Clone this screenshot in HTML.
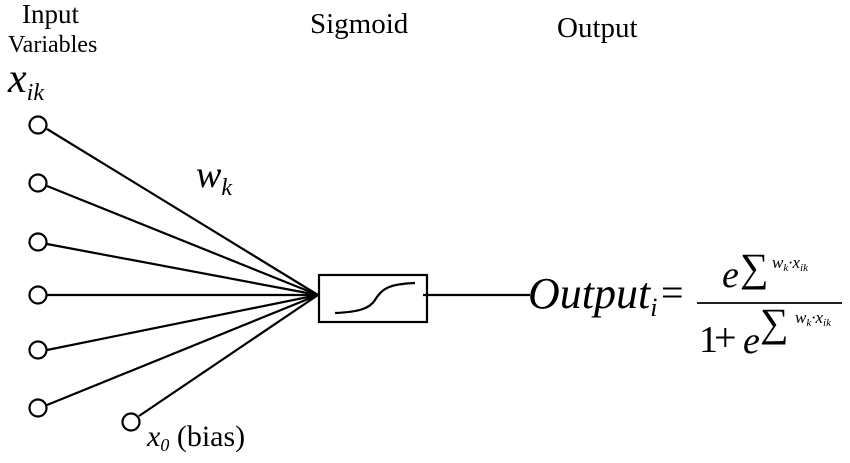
<!DOCTYPE html>
<html><head><style>
html,body{margin:0;padding:0;background:#fff;}
svg{display:block;}
text{font-family:"Liberation Serif",serif;fill:#000;}
</style></head><body>
<svg width="850" height="463" viewBox="0 0 850 463" xmlns="http://www.w3.org/2000/svg">
<text x="22" y="23" font-size="27">Input</text>
<text x="8" y="52" font-size="24">Variables</text>
<text x="310" y="33" font-size="29">Sigmoid</text>
<text x="557" y="37" font-size="29">Output</text>
<text x="8" y="92" font-size="42" font-style="italic">x<tspan font-size="24" dy="8">ik</tspan></text>
<text x="196" y="187" font-size="38" font-style="italic">w<tspan font-size="24" dy="8">k</tspan></text>
<text x="147" y="446" font-size="30"><tspan font-style="italic">x</tspan><tspan font-style="italic" font-size="18" dy="5">0</tspan><tspan dy="-5"> (bias)</tspan></text>
<g stroke="#000" stroke-width="2.2" fill="none">
<circle cx="38" cy="125" r="8.5"/>
<circle cx="38" cy="183" r="8.5"/>
<circle cx="38" cy="242" r="8.5"/>
<circle cx="38" cy="295" r="8.5"/>
<circle cx="38" cy="350" r="8.5"/>
<circle cx="38" cy="408" r="8.5"/>
<circle cx="131" cy="422" r="8.5"/>
<line x1="47" y1="129" x2="318" y2="295"/>
<line x1="47" y1="186" x2="318" y2="295"/>
<line x1="47" y1="244" x2="318" y2="295"/>
<line x1="47" y1="295" x2="318" y2="295"/>
<line x1="47" y1="350" x2="318" y2="295"/>
<line x1="47" y1="405" x2="318" y2="295"/>
<line x1="139" y1="416" x2="318" y2="295"/>
<rect x="319" y="275" width="108" height="47"/>
<path d="M335 313 C360 312 370 308 375 300 C382 288 390 284 415 283"/>
<line x1="423" y1="295" x2="530" y2="295"/>
<line x1="697" y1="303" x2="842" y2="303" stroke-width="1.8"/>
</g>
<text x="528" y="308" font-size="44" font-style="italic">Output<tspan font-size="26" dy="8">i</tspan></text>
<text x="661" y="306" font-size="40">=</text>
<text x="722" y="287" font-size="38" font-style="italic">e</text>
<text x="740" y="281" font-size="40">∑</text>
<text x="772" y="268" font-size="17" font-style="italic">w<tspan font-size="11" dy="3">k</tspan><tspan dy="-3">·x</tspan><tspan font-size="11" dy="3">ik</tspan></text>
<text x="699" y="352" font-size="38">1</text>
<text x="714" y="351" font-size="40">+</text>
<text x="743" y="353" font-size="38" font-style="italic">e</text>
<text x="760" y="336" font-size="40">∑</text>
<text x="795" y="323" font-size="17" font-style="italic">w<tspan font-size="11" dy="3">k</tspan><tspan dy="-3">·x</tspan><tspan font-size="11" dy="3">ik</tspan></text>
</svg>
</body></html>
